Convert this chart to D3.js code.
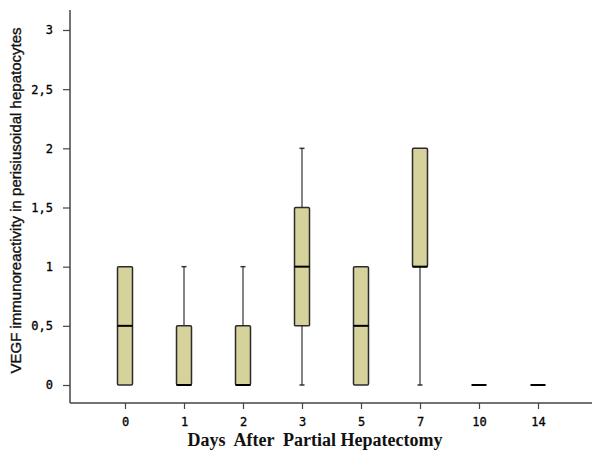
<!DOCTYPE html>
<html>
<head>
<meta charset="utf-8">
<script src="https://cdn.jsdelivr.net/npm/d3@7"></script>
<style>
  body { margin: 0; background: #fff; }
  svg { display: block; }
</style>
</head>
<body>
<svg id="chart"></svg>
<script>
// box plot summaries
const days = ["0", "1", "2", "3", "5", "7", "10", "14"];
const mins = [0, 0, 0, 0, 0, 0, 0, 0];
const q1s = [0, 0, 0, 0.5, 0, 1, 0, 0];
const medians = [0.5, 0, 0, 1, 0.5, 1, 0, 0];
const q3s = [1, 0.5, 0.5, 1.5, 1, 2, 0, 0];
const maxs = [1, 1, 1, 2, 1, 2, 0, 0];
const yTicks = [0, 0.5, 1, 1.5, 2, 2.5, 3];

const width = 592;
const height = 459;
const axisX = 70;
const axisY = 403;

const svg = d3.select("#chart").attr("width", width).attr("height", height);

const xScale = d3.scalePoint().domain(days).range([125, 538]);
const yScale = d3.scaleLinear().domain([0, 3]).range([385, 30]);

const data = days.map((d, i) => ({
  day: d,
  min: mins[i],
  q1: q1s[i],
  median: medians[i],
  q3: q3s[i],
  max: maxs[i],
}));

const boxW = 15;
const g = svg.append("g");

// whiskers
g.selectAll("line.whisker")
  .data(data.filter((d) => d.max > d.min))
  .join("line")
  .attr("class", "whisker")
  .attr("x1", (d) => xScale(d.day))
  .attr("x2", (d) => xScale(d.day))
  .attr("y1", (d) => yScale(d.min))
  .attr("y2", (d) => yScale(d.max))
  .attr("stroke", "#333")
  .attr("stroke-width", 1.2);

// whisker caps
const caps = [];
data.filter((d) => d.max > d.min).forEach((d) => {
  if (d.max > d.q3) caps.push({ day: d.day, v: d.max });
  if (d.min < d.q1) caps.push({ day: d.day, v: d.min });
});
g.selectAll("line.cap")
  .data(caps)
  .join("line")
  .attr("class", "cap")
  .attr("x1", (d) => xScale(d.day) - 2.5)
  .attr("x2", (d) => xScale(d.day) + 2.5)
  .attr("y1", (d) => yScale(d.v))
  .attr("y2", (d) => yScale(d.v))
  .attr("stroke", "#333")
  .attr("stroke-width", 1.5);

// boxes
g.selectAll("rect.box")
  .data(data.filter((d) => d.q3 > d.q1))
  .join("rect")
  .attr("class", "box")
  .attr("x", (d) => xScale(d.day) - boxW / 2)
  .attr("y", (d) => yScale(d.q3))
  .attr("width", boxW)
  .attr("height", (d) => yScale(d.q1) - yScale(d.q3))
  .attr("rx", 1.2)
  .attr("fill", "#d6d29c")
  .attr("stroke", "#2b2b2b")
  .attr("stroke-width", 1.5);

// medians
g.selectAll("line.median")
  .data(data)
  .join("line")
  .attr("class", "median")
  .attr("x1", (d) => xScale(d.day) - boxW / 2)
  .attr("x2", (d) => xScale(d.day) + boxW / 2)
  .attr("y1", (d) => yScale(d.median))
  .attr("y2", (d) => yScale(d.median))
  .attr("stroke", "#000")
  .attr("stroke-width", 2);

// y axis
const yAxis = svg.append("g")
  .attr("transform", `translate(${axisX},0)`)
  .call(d3.axisLeft(yScale).tickValues(yTicks).tickSize(7).tickPadding(10)
    .tickFormat((d) => String(d).replace(".", ",")));
yAxis.select(".domain").remove();
yAxis.append("line")
  .attr("x1", 0).attr("x2", 0)
  .attr("y1", 10).attr("y2", axisY)
  .attr("stroke", "#444").attr("stroke-width", 1.5);
yAxis.selectAll(".tick line").attr("stroke", "#444").attr("stroke-width", 1.2);
yAxis.selectAll(".tick text")
  .attr("font-family", "DejaVu Sans Mono")
  .attr("font-size", 12)
  .attr("fill", "#000")
  .attr("stroke", "#000")
  .attr("stroke-width", 0.3);

// x axis
const xAxis = svg.append("g")
  .attr("transform", `translate(0,${axisY})`)
  .call(d3.axisBottom(xScale).tickSize(6).tickPadding(8));
xAxis.select(".domain").remove();
xAxis.append("line")
  .attr("x1", axisX).attr("x2", width)
  .attr("y1", 0).attr("y2", 0)
  .attr("stroke", "#444").attr("stroke-width", 1.5);
xAxis.selectAll(".tick line").attr("stroke", "#444").attr("stroke-width", 1.2);
xAxis.selectAll(".tick text")
  .attr("font-family", "DejaVu Sans Mono")
  .attr("font-size", 12)
  .attr("fill", "#000")
  .attr("stroke", "#000")
  .attr("stroke-width", 0.3);

// titles
svg.append("text")
  .attr("x", 315)
  .attr("y", 446)
  .attr("text-anchor", "middle")
  .attr("font-family", "Liberation Serif")
  .attr("font-weight", "bold")
  .attr("font-size", 18)
  .attr("fill", "#111")
  .style("white-space", "pre")
  .text("Days  After  Partial Hepatectomy");

svg.append("text")
  .attr("transform", `translate(21,${(yScale(0) + yScale(3)) / 2 - 7}) rotate(-90)`)
  .attr("text-anchor", "middle")
  .attr("font-family", "Liberation Sans")
  .attr("font-size", 15)
  .attr("fill", "#111")
  .attr("stroke", "#111")
  .attr("stroke-width", 0.35)
  .text("VEGF immunoreactivity in perisiusoidal hepatocytes");
</script>
</body>
</html>
